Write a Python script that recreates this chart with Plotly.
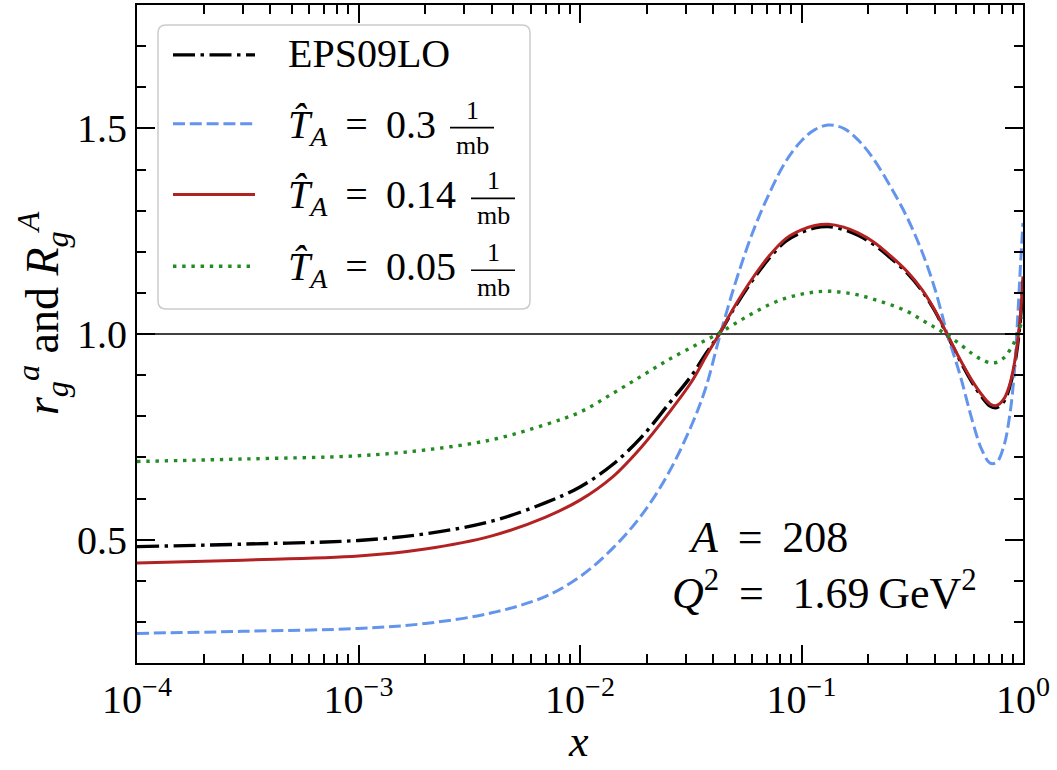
import plotly.graph_objects as go

# ---- data -------------------------------------------------------------------
x_vals = [1e-4, 3e-4, 1e-3, 2e-3, 4e-3, 7e-3, 1e-2, 1.4e-2, 1.9e-2, 2.5e-2,
          3.2e-2, 3.7e-2, 4.25e-2, 5e-2, 6e-2, 7.2e-2, 8.5e-2, 0.1, 0.115, 0.132,
          0.155, 0.18, 0.21, 0.25, 0.3, 0.35, 0.4, 0.455, 0.52, 0.59,
          0.65, 0.71, 0.76, 0.82, 0.87, 0.91, 0.945, 0.975, 1.0]

eps09lo = [0.483, 0.489, 0.498, 0.514, 0.545, 0.590, 0.628, 0.682, 0.750, 0.828,
           0.900, 0.952, 1.000, 1.065, 1.130, 1.186, 1.226, 1.247, 1.258, 1.261,
           1.254, 1.240, 1.219, 1.187, 1.148, 1.105, 1.056, 0.997, 0.935, 0.882,
           0.848, 0.825, 0.821, 0.836, 0.870, 0.915, 0.972, 1.040, 1.130]

ta_030 = [0.272, 0.277, 0.284, 0.296, 0.322, 0.362, 0.410, 0.478, 0.560, 0.660,
          0.780, 0.870, 0.990, 1.120, 1.245, 1.345, 1.420, 1.470, 1.497, 1.508,
          1.500, 1.472, 1.428, 1.362, 1.283, 1.200, 1.110, 1.000, 0.900, 0.790,
          0.720, 0.686, 0.688, 0.728, 0.800, 0.895, 1.035, 1.170, 1.270]

ta_014 = [0.443, 0.450, 0.460, 0.477, 0.509, 0.555, 0.596, 0.652, 0.726, 0.806,
          0.885, 0.945, 1.000, 1.068, 1.135, 1.192, 1.232, 1.253, 1.264, 1.267,
          1.260, 1.246, 1.225, 1.192, 1.152, 1.108, 1.058, 0.999, 0.938, 0.886,
          0.853, 0.830, 0.826, 0.842, 0.876, 0.922, 0.980, 1.050, 1.140]

ta_005 = [0.690, 0.696, 0.704, 0.718, 0.743, 0.780, 0.810, 0.855, 0.898, 0.937,
          0.968, 0.985, 1.002, 1.025, 1.050, 1.072, 1.087, 1.097, 1.102, 1.104,
          1.101, 1.095, 1.085, 1.072, 1.055, 1.034, 1.016, 0.998, 0.975, 0.952,
          0.938, 0.930, 0.931, 0.942, 0.960, 0.978, 1.000, 1.020, 1.040]

ta_labels = ["0.3", "0.14", "0.05"]

x_tickvals = [1e-4, 1e-3, 1e-2, 1e-1, 1e0]
x_ticktext = ["10<sup>−4</sup>", "10<sup>−3</sup>", "10<sup>−2</sup>",
              "10<sup>−1</sup>", "10<sup>0</sup>"]
x_minor = [k * 10.0 ** e for e in range(-4, 0) for k in range(2, 10)]

y_tickvals = [0.5, 1.0, 1.5]
y_ticktext = ["0.5", "1.0", "1.5"]
y_minor = [round(0.2 + 0.1 * i, 1) for i in range(17)]

# ---- geometry / style ---------------------------------------------------------
W, H = 1057, 770
ML, MR, MT, MB = 137, 34, 3, 107
PW, PH = W - ML - MR, H - MT - MB
FONT = "Liberation Serif"


def px(xp):
    return (xp - ML) / PW


def py(yp):
    return (H - MB - yp) / PH


styles = [
    dict(color="black", width=3.4, dash="22px,5.5px,3.5px,5.5px"),
    dict(color="#6495ED", width=3.0, dash="12px,4.8px"),
    dict(color="#B22222", width=3.0, dash="solid"),
    dict(color="#228B22", width=3.4, dash="3.4px,5.8px"),
]
series = [eps09lo, ta_030, ta_014, ta_005]

fig = go.Figure()
for ys, st in zip(series, styles):
    fig.add_trace(go.Scatter(
        x=x_vals, y=ys, mode="lines", showlegend=False,
        line=dict(color=st["color"], width=st["width"], dash=st["dash"],
                  shape="spline", smoothing=1.0),
    ))

axis_common = dict(
    ticks="inside", ticklen=18, tickwidth=1.5, tickcolor="black",
    showline=True, linecolor="black", linewidth=2, mirror="allticks",
    showgrid=False, zeroline=False,
    tickfont=dict(family=FONT, size=40, color="black"),
)

fig.update_xaxes(
    type="log", range=[-4, 0], tickmode="array",
    tickvals=x_tickvals, ticktext=x_ticktext,
    minor=dict(tickmode="array", tickvals=x_minor, ticks="inside",
               ticklen=9, tickwidth=1.5, tickcolor="black", showgrid=False),
    **axis_common,
)
fig.update_yaxes(
    range=[0.2, 1.8], tickmode="array",
    tickvals=y_tickvals, ticktext=y_ticktext,
    minor=dict(tickmode="array", tickvals=y_minor, ticks="inside",
               ticklen=9, tickwidth=1.5, tickcolor="black", showgrid=False),
    **axis_common,
)

shapes = []
annotations = []

# reference line at unity
shapes.append(dict(type="line", xref="paper", x0=0, x1=1, yref="y", y0=1, y1=1,
                   line=dict(color="black", width=1.5), layer="below"))

# legend frame with rounded corners
x0, x1 = px(158), px(530)
y0, y1 = py(308), py(23)
rx, ry = 8 / PW, 8 / PH
path = (f"M {x0+rx},{y0} L {x1-rx},{y0} Q {x1},{y0} {x1},{y0+ry} "
        f"L {x1},{y1-ry} Q {x1},{y1} {x1-rx},{y1} L {x0+rx},{y1} "
        f"Q {x0},{y1} {x0},{y1-ry} L {x0},{y0+ry} Q {x0},{y0} {x0+rx},{y0} Z")
shapes.append(dict(type="path", path=path, xref="paper", yref="paper",
                   fillcolor="rgba(255,255,255,0.8)",
                   line=dict(color="#cccccc", width=1.5)))

row_y = [53, 122, 193, 265]
for st, ry_px in zip(styles, row_y):
    shapes.append(dict(type="line", xref="paper", yref="paper",
                       x0=px(173), x1=px(255), y0=py(ry_px), y1=py(ry_px),
                       line=dict(color=st["color"], width=st["width"],
                                 dash=st["dash"])))


def text(xp, yp, s, size=40, xanchor="left", yanchor="middle", angle=0):
    annotations.append(dict(
        x=px(xp), y=py(yp), xref="paper", yref="paper", text=s,
        showarrow=False, xanchor=xanchor, yanchor=yanchor, textangle=angle,
        font=dict(family=FONT, size=size, color="black"),
    ))


text(286, 52, "EPS09LO")
frac_x = [472, 493, 493]
for lab, ry_px, fx in zip(ta_labels, row_y[1:], frac_x):
    text(286, ry_px + 3, f"<i>T̂</i><sub><i>A</i></sub>\u2009 = \u2009{lab}")
    bar_y = ry_px + 4
    text(fx, bar_y - 1, "1", size=26, xanchor="center", yanchor="bottom")
    text(fx, bar_y + 1, "mb", size=26, xanchor="center", yanchor="top")
    shapes.append(dict(type="line", xref="paper", yref="paper",
                       x0=px(fx - 22), x1=px(fx + 22),
                       y0=py(bar_y), y1=py(bar_y),
                       line=dict(color="black", width=1.6)))

text(686, 537, "<i>A</i>\u2009 = \u2009208", size=44)
text(670, 590, "<i>Q</i><sup>2</sup>\u2009 = \u2009\u20091.69\u2009GeV<sup>2</sup>",
     size=44)

# axis titles
text(578, 768, "<i>x</i>", size=44, xanchor="center", yanchor="bottom")
text(42, 312, "<i>r</i><sub><i>g</i></sub><sup><i>a</i></sup> and "
              "<i>R</i><sub><i>g</i></sub><sup><i>A</i></sup>",
     size=46, xanchor="center", angle=-90)

fig.update_layout(
    width=W, height=H,
    margin=dict(l=ML, r=MR, t=MT, b=MB),
    paper_bgcolor="white", plot_bgcolor="white",
    shapes=shapes, annotations=annotations,
    showlegend=False,
)

fig.write_html("out.html")
